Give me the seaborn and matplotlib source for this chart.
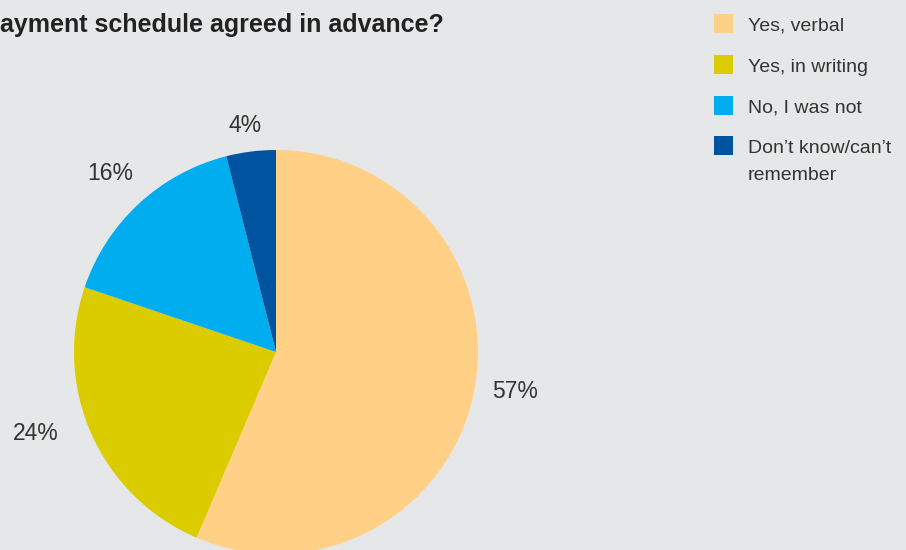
import matplotlib
matplotlib.use("Agg")
import numpy as np
import matplotlib.pyplot as plt
import seaborn as sns
from matplotlib.patches import Rectangle

categories = ["Yes, verbal", "Yes, in writing", "No, I was not", "Don\u2019t know/can\u2019t\nremember"]
values = [57, 24, 16, 4]
colors = ["#FFD086", "#DBCC00", "#00AEEF", "#00549F"]
title = "Was the repayment schedule agreed in advance?"

# radial distance and angular nudge (degrees) of each percentage label
label_dist = [1.20, 1.255, 1.207, 1.131]
label_nudge = [2.3, -5.2, 0.0, 0.6]

bg = "#E6E7E8"
ink = "#333333"

sns.set_theme(style="white", rc={"figure.facecolor": bg, "axes.facecolor": bg})
plt.rcParams["font.family"] = ["Liberation Sans", "DejaVu Sans"]

fig = plt.figure(figsize=(9.06, 5.5), dpi=100)
W, H = 906, 550
cx, cy, r = 276, 352, 202
ax = fig.add_axes([(cx - r) / W, (H - cy - r) / H, 2 * r / W, 2 * r / H])

wedges, _ = ax.pie(values, colors=colors, startangle=90, counterclock=False,
                   wedgeprops=dict(linewidth=0))
for w, v, d, nudge in zip(wedges, values, label_dist, label_nudge):
    w.set_clip_on(False)
    th = np.deg2rad((w.theta1 + w.theta2) / 2 + nudge)
    ax.text(d * np.cos(th), d * np.sin(th), f"{v}%", ha="center", va="center",
            fontsize=16.5, color=ink, clip_on=False)
ax.set_xlim(-1, 1)
ax.set_ylim(-1, 1)
ax.set_aspect("equal")

fig.text(444 / W, 1 - 32 / H, title, ha="right", va="baseline", fontsize=18,
         fontweight="bold", color="#222222")

# legend: colour squares with labels to their right
sq = 19
line_gap = 27
tops = [14, 55, 96, 136]
for c, lab, t in zip(colors, categories, tops):
    fig.patches.append(Rectangle((714 / W, 1 - (t + sq) / H), sq / W, sq / H,
                                 facecolor=c, edgecolor="none",
                                 transform=fig.transFigure, figure=fig))
    extra = lab.count("\n") * line_gap
    fig.text(748 / W, 1 - (t + 16.5 + extra) / H, lab, ha="left", va="baseline",
             fontsize=14, color=ink, linespacing=1.7)

fig.savefig("out.png", dpi=100, facecolor=bg)
